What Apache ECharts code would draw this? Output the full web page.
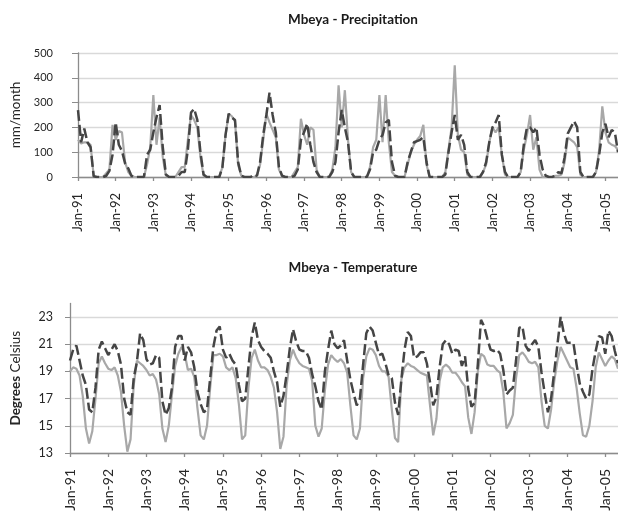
<!DOCTYPE html>
<html><head><meta charset="utf-8">
<script src="https://cdn.jsdelivr.net/npm/echarts@6/dist/echarts.min.js"></script>
<style>html,body{margin:0;padding:0;background:#fff}#c{width:618px;height:515px}</style>
</head><body><div id="c"></div>
<script>
// ---- data (monthly, Jan-1991 .. May-2005) ----
const monthNames = ['Jan','Feb','Mar','Apr','May','Jun','Jul','Aug','Sep','Oct','Nov','Dec'];
const yearSuffixes = ['91','92','93','94','95','96','97','98','99','00','01','02','03','04','05'];
const tickLabels = ['Jan-91','Jan-92','Jan-93','Jan-94','Jan-95','Jan-96','Jan-97','Jan-98','Jan-99','Jan-00','Jan-01','Jan-02','Jan-03','Jan-04','Jan-05'];

// Precipitation, mm/month – light solid series
const precipSolid = [
  150,135,140,140,130,3,0,0,0,15,30,210,      // 1991
  150,185,180,60,20,5,0,0,0,0,50,120,         // 1992
  330,130,240,80,5,0,0,0,20,40,40,150,        // 1993
  250,230,200,80,5,0,0,0,0,0,40,170,          // 1994
  255,245,225,50,5,0,0,0,0,5,50,150,          // 1995
  255,220,190,160,30,5,0,0,0,20,40,235,       // 1996
  170,130,200,190,30,0,0,0,0,30,120,370,      // 1997
  200,350,150,20,0,0,0,0,0,40,120,150,        // 1998
  330,140,330,140,20,5,0,0,0,50,100,130,      // 1999
  150,165,210,50,0,0,0,0,0,20,110,200,        // 2000
  450,170,110,100,10,0,0,0,0,20,50,140,       // 2001
  200,180,200,90,10,0,0,0,0,20,110,170,       // 2002
  250,110,160,30,0,0,0,0,5,5,10,60,           // 2003
  160,150,140,120,10,0,0,0,0,20,110,285,      // 2004
  180,140,130,125,110                          // 2005
];
// Precipitation, mm/month – dark dashed series
const precipDashed = [
  270,140,195,140,120,3,0,0,0,5,25,90,
  220,130,105,55,35,5,0,0,0,0,90,110,
  180,240,290,120,10,0,0,0,5,20,20,110,
  260,275,230,100,10,0,0,0,0,0,40,170,
  255,240,230,60,5,0,0,0,10,5,60,170,
  250,340,250,180,40,5,0,0,0,5,30,150,
  180,215,130,60,20,0,0,0,0,20,60,180,
  270,200,140,20,0,0,0,0,0,30,100,110,
  150,170,220,230,60,5,0,0,0,60,100,140,
  145,150,160,60,0,0,0,0,0,10,100,180,
  250,150,170,130,20,0,0,0,0,20,60,140,
  200,220,250,90,20,0,0,0,0,20,130,200,
  200,180,200,90,30,5,0,0,5,20,15,80,
  175,200,225,200,20,0,0,0,0,20,90,180,
  215,160,190,180,100
];
// Temperature, degrees Celsius – light solid series
const tempSolid = [
  19.0,19.3,19.2,18.7,17.2,14.8,13.7,14.6,17.0,19.6,20.1,19.6,
  19.2,19.1,19.3,18.7,17.5,15.0,13.1,14.0,18.0,19.8,19.6,19.4,
  19.1,18.7,18.8,18.4,17.3,14.8,13.8,15.0,17.3,19.4,20.3,20.8,
  20.3,19.1,19.2,18.6,16.3,14.3,14.0,15.0,17.8,20.2,20.2,20.3,
  20.1,19.3,19.1,19.3,18.5,16.6,14.0,14.3,17.8,20.0,20.6,19.8,
  19.3,19.3,19.1,18.6,17.8,16.0,13.3,14.2,18.0,19.8,20.6,20.0,
  19.6,19.4,19.3,19.2,18.3,15.0,14.2,14.8,17.6,19.5,20.2,19.9,
  19.7,19.9,19.6,18.9,16.5,14.3,14.0,14.8,18.5,20.1,20.7,20.6,
  20.2,19.4,19.0,19.0,18.6,16.2,14.1,13.8,18.4,19.3,19.6,19.4,
  19.3,19.1,18.9,18.8,18.7,16.5,14.3,15.5,18.3,19.3,19.5,19.3,
  18.9,18.9,18.6,18.2,17.9,15.6,14.4,16.0,19.0,20.3,20.1,19.5,
  19.4,19.4,19.1,18.9,17.5,14.8,15.2,15.8,18.5,20.2,20.4,20.1,
  19.7,19.6,19.7,19.3,16.8,15.0,14.8,16.2,18.3,19.8,20.8,20.3,
  19.8,19.3,19.2,17.8,15.9,14.3,14.2,15.0,16.8,19.3,20.4,19.9,
  19.4,19.8,20.1,19.9,19.2
];
// Temperature, degrees Celsius – dark dashed series
const tempDashed = [
  19.8,20.6,20.9,19.8,18.7,18.0,16.2,16.0,17.8,20.6,21.2,20.7,
  20.2,20.6,21.0,20.5,19.5,17.0,16.0,15.8,18.5,19.7,21.8,21.3,
  19.9,19.5,19.6,20.2,20.0,16.8,15.8,16.3,17.8,20.8,21.6,21.6,
  19.8,20.8,20.4,19.3,17.5,16.6,16.0,16.2,18.5,20.8,22.0,22.3,
  20.6,20.0,20.3,19.8,19.5,18.0,16.8,17.0,19.3,21.5,22.6,21.3,
  20.8,20.5,20.3,20.0,19.0,18.2,16.4,17.2,18.8,20.7,22.1,21.2,
  20.6,20.5,20.5,20.0,18.8,17.9,16.8,16.2,19.0,20.6,22.0,21.0,
  20.7,20.9,21.3,19.8,18.4,17.4,16.5,17.0,19.5,21.8,22.3,22.0,
  21.1,20.2,20.3,19.6,18.7,18.5,16.7,15.8,18.4,20.6,21.9,21.6,
  20.0,20.1,20.4,20.4,19.6,18.2,16.5,17.1,19.3,21.0,21.3,21.0,
  20.3,20.6,20.5,19.4,20.1,17.7,16.4,16.7,19.5,22.8,22.3,21.4,
  20.6,20.5,20.6,20.3,19.1,17.3,17.6,17.8,19.8,22.2,22.3,20.9,
  20.5,21.0,21.3,20.8,18.9,17.4,16.0,17.0,19.0,21.0,23.0,21.8,
  21.1,21.1,21.1,19.5,18.1,17.5,17.0,17.3,19.2,20.5,21.6,21.5,
  20.3,22.0,21.6,20.5,19.6
];

// month categories
const categories = [];
yearSuffixes.forEach(y => monthNames.forEach(m => categories.push(m + '-' + y)));
categories.length = precipSolid.length;

const FONT = 'Lato';
const isJan = (i) => i % 12 === 0;
const axisGray = '#8c8c8c';
const gridGray = '#d9d9d9';
const textCol = '#262626';

function xAxisCfg(gridIndex, fs) {
  return {
    type: 'category', gridIndex, data: categories, boundaryGap: false,
    axisLine: { lineStyle: { color: axisGray, width: 1.3 } },
    axisTick: { show: true, interval: isJan, length: 4, lineStyle: { color: axisGray, width: 1.3 } },
    axisLabel: {
      interval: isJan, rotate: 90, margin: 16, color: textCol,
      fontFamily: FONT, fontSize: fs,
      formatter: (v, i) => tickLabels[Math.round(i / 12)] || v
    },
    splitLine: { show: false }
  };
}

const chart = echarts.init(document.getElementById('c'), null, { renderer: 'canvas' });
chart.setOption({
  animation: false,
  backgroundColor: '#fff',
  title: [
    { text: 'Mbeya - Precipitation', left: 348, top: 8, textAlign: 'center',
      textStyle: { fontFamily: FONT, fontSize: 13.5, fontWeight: 'bold', color: '#1a1a1a' } },
    { text: 'Mbeya - Temperature', left: 348, top: 256, textAlign: 'center',
      textStyle: { fontFamily: FONT, fontSize: 13.5, fontWeight: 'bold', color: '#1a1a1a' } }
  ],
  grid: [
    { left: 78, top: 53, width: 540.4, height: 124, containLabel: false },
    { left: 70, top: 303.4, width: 549.4, height: 149.6, containLabel: false }
  ],
  xAxis: [xAxisCfg(0, 13), xAxisCfg(1, 14)],
  yAxis: [
    {
      type: 'value', gridIndex: 0, min: 0, max: 500, interval: 100,
      name: 'mm/month', nameLocation: 'middle', nameGap: 52,
      nameTextStyle: { fontFamily: FONT, fontSize: 13.5, color: textCol },
      axisLine: { show: true, lineStyle: { color: axisGray, width: 1.3 } },
      axisTick: { show: true, length: 6, lineStyle: { color: axisGray } },
      axisLabel: { fontFamily: FONT, fontSize: 11, color: textCol, margin: 25 },
      splitLine: { show: true, lineStyle: { color: gridGray, width: 1.3 } }
    },
    {
      type: 'value', gridIndex: 1, min: 13, max: 24, interval: 2,
      name: '{b|Degrees} {n|Celsius}', nameLocation: 'middle', nameGap: 47,
      nameTextStyle: {
        rich: {
          b: { fontFamily: FONT, fontSize: 13.5, fontWeight: 'bold', color: textCol },
          n: { fontFamily: FONT, fontSize: 13.5, color: textCol }
        }
      },
      axisLine: { show: true, lineStyle: { color: axisGray, width: 1.3 } },
      axisTick: { show: true, length: 5, lineStyle: { color: axisGray } },
      axisLabel: { fontFamily: FONT, fontSize: 12.5, color: textCol, margin: 17, showMaxLabel: false },
      splitLine: { show: true, showMaxLine: false, lineStyle: { color: gridGray, width: 1.3 } }
    }
  ],
  series: [
    { name: 'Observed precipitation', type: 'line', xAxisIndex: 0, yAxisIndex: 0, data: precipSolid,
      showSymbol: false, lineStyle: { color: '#a8a8a8', width: 2.2 } },
    { name: 'Modelled precipitation', type: 'line', xAxisIndex: 0, yAxisIndex: 0, data: precipDashed,
      showSymbol: false, lineStyle: { color: '#454545', width: 2.5, type: [11, 4] } },
    { name: 'Observed temperature', type: 'line', xAxisIndex: 1, yAxisIndex: 1, data: tempSolid,
      showSymbol: false, lineStyle: { color: '#a8a8a8', width: 2.2 } },
    { name: 'Modelled temperature', type: 'line', xAxisIndex: 1, yAxisIndex: 1, data: tempDashed,
      showSymbol: false, lineStyle: { color: '#454545', width: 2.5, type: [11, 4] } }
  ]
});
</script>
</body></html>
